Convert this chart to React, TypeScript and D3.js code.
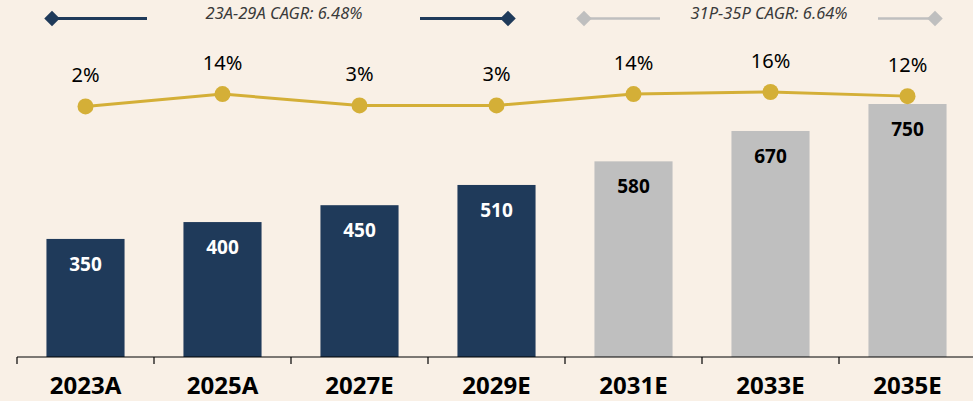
import * as d3 from "d3";
import { useEffect, useRef } from "react";

const categories = ["2023A", "2025A", "2027E", "2029E", "2031E", "2033E", "2035E"];
const values = [350, 400, 450, 510, 580, 670, 750];
const growth = [2, 14, 3, 3, 14, 16, 12];
const isActual = [true, true, true, true, false, false, false];
const cagrLabels = ["23A-29A CAGR: 6.48%", "31P-35P CAGR: 6.64%"];

const NAVY = "#1f3a5a";
const GRAY = "#bfbfbf";
const GOLD = "#d4af37";
const BG = "#f9f0e6";
const FONT = "'Noto Sans', 'Open Sans', sans-serif";

export default function App({
  width = 973,
  height = 401,
  marginLeft = 17,
  baseline = 357
}: {
  width?: number,
  height?: number,
  marginLeft?: number,
  baseline?: number
}) {
  const axisx: any = useRef();

  const x: any = d3.scaleBand()
    .domain(categories)
    .range([marginLeft, marginLeft + 137 * categories.length])
    .paddingInner(0.43)
    .paddingOuter(0.215);

  const y: any = d3.scaleLinear([0, 750], [baseline, 104]);

  // growth line sits on its own axis above the bars
  const yg: any = d3.scaleLinear([0, 16], [108.5, 92]);

  const line = d3.line<number>()
    .x((_, i) => x(categories[i]) + x.bandwidth() / 2)
    .y(d => yg(d));

  useEffect(() => {
    const g = d3.select(axisx.current);
    g.selectAll("*").remove();
    const [r0] = x.range();
    g.append("line")
      .attr("x1", r0).attr("x2", width)
      .attr("y1", 0).attr("y2", 0)
      .attr("stroke", "#000").attr("stroke-width", 1.2);
    g.selectAll(".tk")
      .data(categories)
      .join("line")
      .attr("class", "tk")
      .attr("x1", d => x(d) - x.step() * 0.215)
      .attr("x2", d => x(d) - x.step() * 0.215)
      .attr("y1", 0).attr("y2", 7)
      .attr("stroke", "#000").attr("stroke-width", 1.2);
    g.selectAll(".lb")
      .data(categories)
      .join("text")
      .attr("class", "lb")
      .attr("x", d => x(d) + x.bandwidth() / 2)
      .attr("y", 37)
      .attr("text-anchor", "middle")
      .attr("font-family", FONT)
      .attr("font-weight", "bold")
      .attr("font-size", 24)
      .attr("fill", "#000")
      .text(d => d);
  }, [width, x]);

  const diamond = (cx: number, cy: number, color: string) => (
    <rect x={cx - 5.5} y={cy - 5.5} width={11} height={11} fill={color}
      transform={`rotate(45 ${cx} ${cy})`} />
  );

  const ly = 18.5;

  return (
    <svg width={width} height={height}
      style={{ position: "absolute", left: 0, top: 0, background: BG }}>
      <rect width={width} height={height} fill={BG} />

      {/* legend */}
      <g>
        <line x1={52} x2={147} y1={ly} y2={ly} stroke={NAVY} strokeWidth={3} />
        {diamond(52, ly, NAVY)}
        <text x={284} y={ly + 0.5} textAnchor="middle" fontFamily={FONT}
          fontStyle="italic" fontSize={16.5} fill="#3a3a3a">{cagrLabels[0]}</text>
        <line x1={420} x2={508} y1={ly} y2={ly} stroke={NAVY} strokeWidth={3} />
        {diamond(508, ly, NAVY)}

        <line x1={584} x2={660} y1={ly} y2={ly} stroke={GRAY} strokeWidth={2.5} />
        {diamond(584, ly, GRAY)}
        <text x={769} y={ly + 0.5} textAnchor="middle" fontFamily={FONT}
          fontStyle="italic" fontSize={16.5} fill="#3a3a3a">{cagrLabels[1]}</text>
        <line x1={878} x2={935} y1={ly} y2={ly} stroke={GRAY} strokeWidth={2.5} />
        {diamond(935, ly, GRAY)}
      </g>

      {/* bars */}
      {values.map((v, i) => (
        <g key={i}>
          <rect x={x(categories[i])} y={y(v)} width={x.bandwidth()}
            height={y(0) - y(v)} fill={isActual[i] ? NAVY : GRAY} />
          <text x={x(categories[i]) + x.bandwidth() / 2} y={y(v) + 32}
            textAnchor="middle" fontFamily={FONT} fontWeight="bold" fontSize={19}
            fill={isActual[i] ? "#fff" : "#000"}>{v}</text>
        </g>
      ))}

      <g ref={axisx} transform={`translate(0, ${baseline})`} />

      {/* growth line */}
      <path d={line(growth) as string} fill="none" stroke={GOLD} strokeWidth={3} />
      {growth.map((p, i) => (
        <g key={i}>
          <circle cx={x(categories[i]) + x.bandwidth() / 2} cy={yg(p)} r={8} fill={GOLD} />
          <text x={x(categories[i]) + x.bandwidth() / 2} y={yg(p) - 24}
            textAnchor="middle" fontFamily={FONT} fontSize={20} fill="#000">{p}%</text>
        </g>
      ))}
    </svg>
  );
}
